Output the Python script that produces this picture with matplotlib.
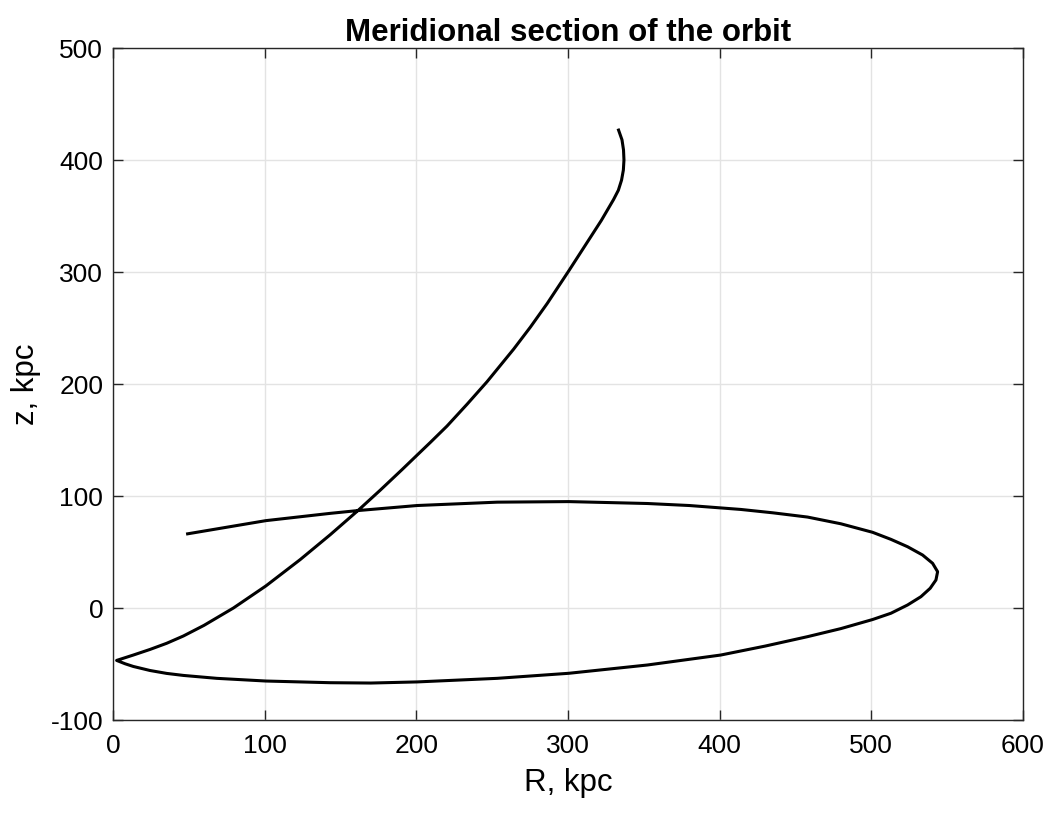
import matplotlib

matplotlib.use("Agg")
import matplotlib.pyplot as plt

# orbit in the meridional plane (kpc)
R_KPC = [
    333, 335.6, 336.6, 336.9, 336.5, 335.3, 333.2, 330, 322, 314.9, 300.5,
    286.3, 275.2, 264.2, 246.6, 233.5, 220.2, 209.2, 200.5, 190.6, 176.2,
    161.5, 143.2, 123.4, 100.8, 79.4, 60, 46.4, 35.4, 24.4, 13.4,
    2.4,
    8, 13.4, 24.4, 35.4, 46.4, 68.4, 100.8, 143.2, 170, 200.5,
    253.3, 300.5, 352.3, 400.7, 430, 457.9, 479.9, 500.8, 512.9, 523.9,
    532.7, 538.8, 542.6, 543.7, 540.4, 533.8, 523.9, 512.9, 500.8, 479.9,
    457.9, 435, 413.9, 380, 352.3, 300.5, 253.3, 200.5, 161.5, 143.2,
    100.8, 48.2,
]
Z_KPC = [
    428, 418, 409, 400, 391, 382, 373, 364.6, 346.1, 331.2, 301,
    271.9, 250.8, 231.2, 202, 182, 162.4, 147.8, 136.5, 123.6, 105.2,
    87, 65.4, 43.2, 19.7, 0, -15.5, -25, -31.5, -37, -42,
    -46.8,
    -49.8, -52.2, -55.8, -58.4, -60.2, -62.8, -65.2, -66.7, -67, -66,
    -62.8, -58.3, -50.9, -42, -34, -25.6, -18.4, -10.3, -4.7, 2.7,
    10.1, 17.6, 25, 32.4, 39.9, 47.3, 54.7, 61.3, 67.6, 75.2,
    81.2, 85, 88, 91.5, 93.3, 95, 94.5, 91.5, 87, 84.5,
    78, 66,
]

X_TICKS = [0, 100, 200, 300, 400, 500, 600]
Y_TICKS = [-100, 0, 100, 200, 300, 400, 500]

plt.rcParams["font.family"] = ["Liberation Sans", "DejaVu Sans"]
plt.rcParams["axes.unicode_minus"] = False

fig = plt.figure(figsize=(10.54, 8.15), dpi=100)
ax = fig.add_axes([113 / 1054, 95 / 815, 910 / 1054, 672 / 815])

ax.plot(R_KPC, Z_KPC, color="black", linewidth=2.2,
        solid_joinstyle="round", solid_capstyle="butt")

ax.set_xlim(0, 600)
ax.set_ylim(-100, 500)
ax.set_xticks(X_TICKS)
ax.set_yticks(Y_TICKS)
ax.grid(True, color="#e3e3e3", linewidth=1.0)
ax.set_axisbelow(True)

for spine in ax.spines.values():
    spine.set_color("#262626")
    spine.set_linewidth(1.0)
ax.tick_params(direction="in", length=7, width=1.0, colors="#262626",
               top=True, right=True, labelsize=19, labelcolor="black")
ax.tick_params(axis="x", pad=10)
ax.tick_params(axis="y", pad=7)

ax.set_xlabel("R, kpc", fontsize=22.5, labelpad=7)
ax.set_ylabel("z, kpc", fontsize=22.5, labelpad=7)
ax.set_title("Meridional section of the orbit", fontsize=22.5, fontweight="bold", pad=5)

fig.savefig("out.png", dpi=100)
